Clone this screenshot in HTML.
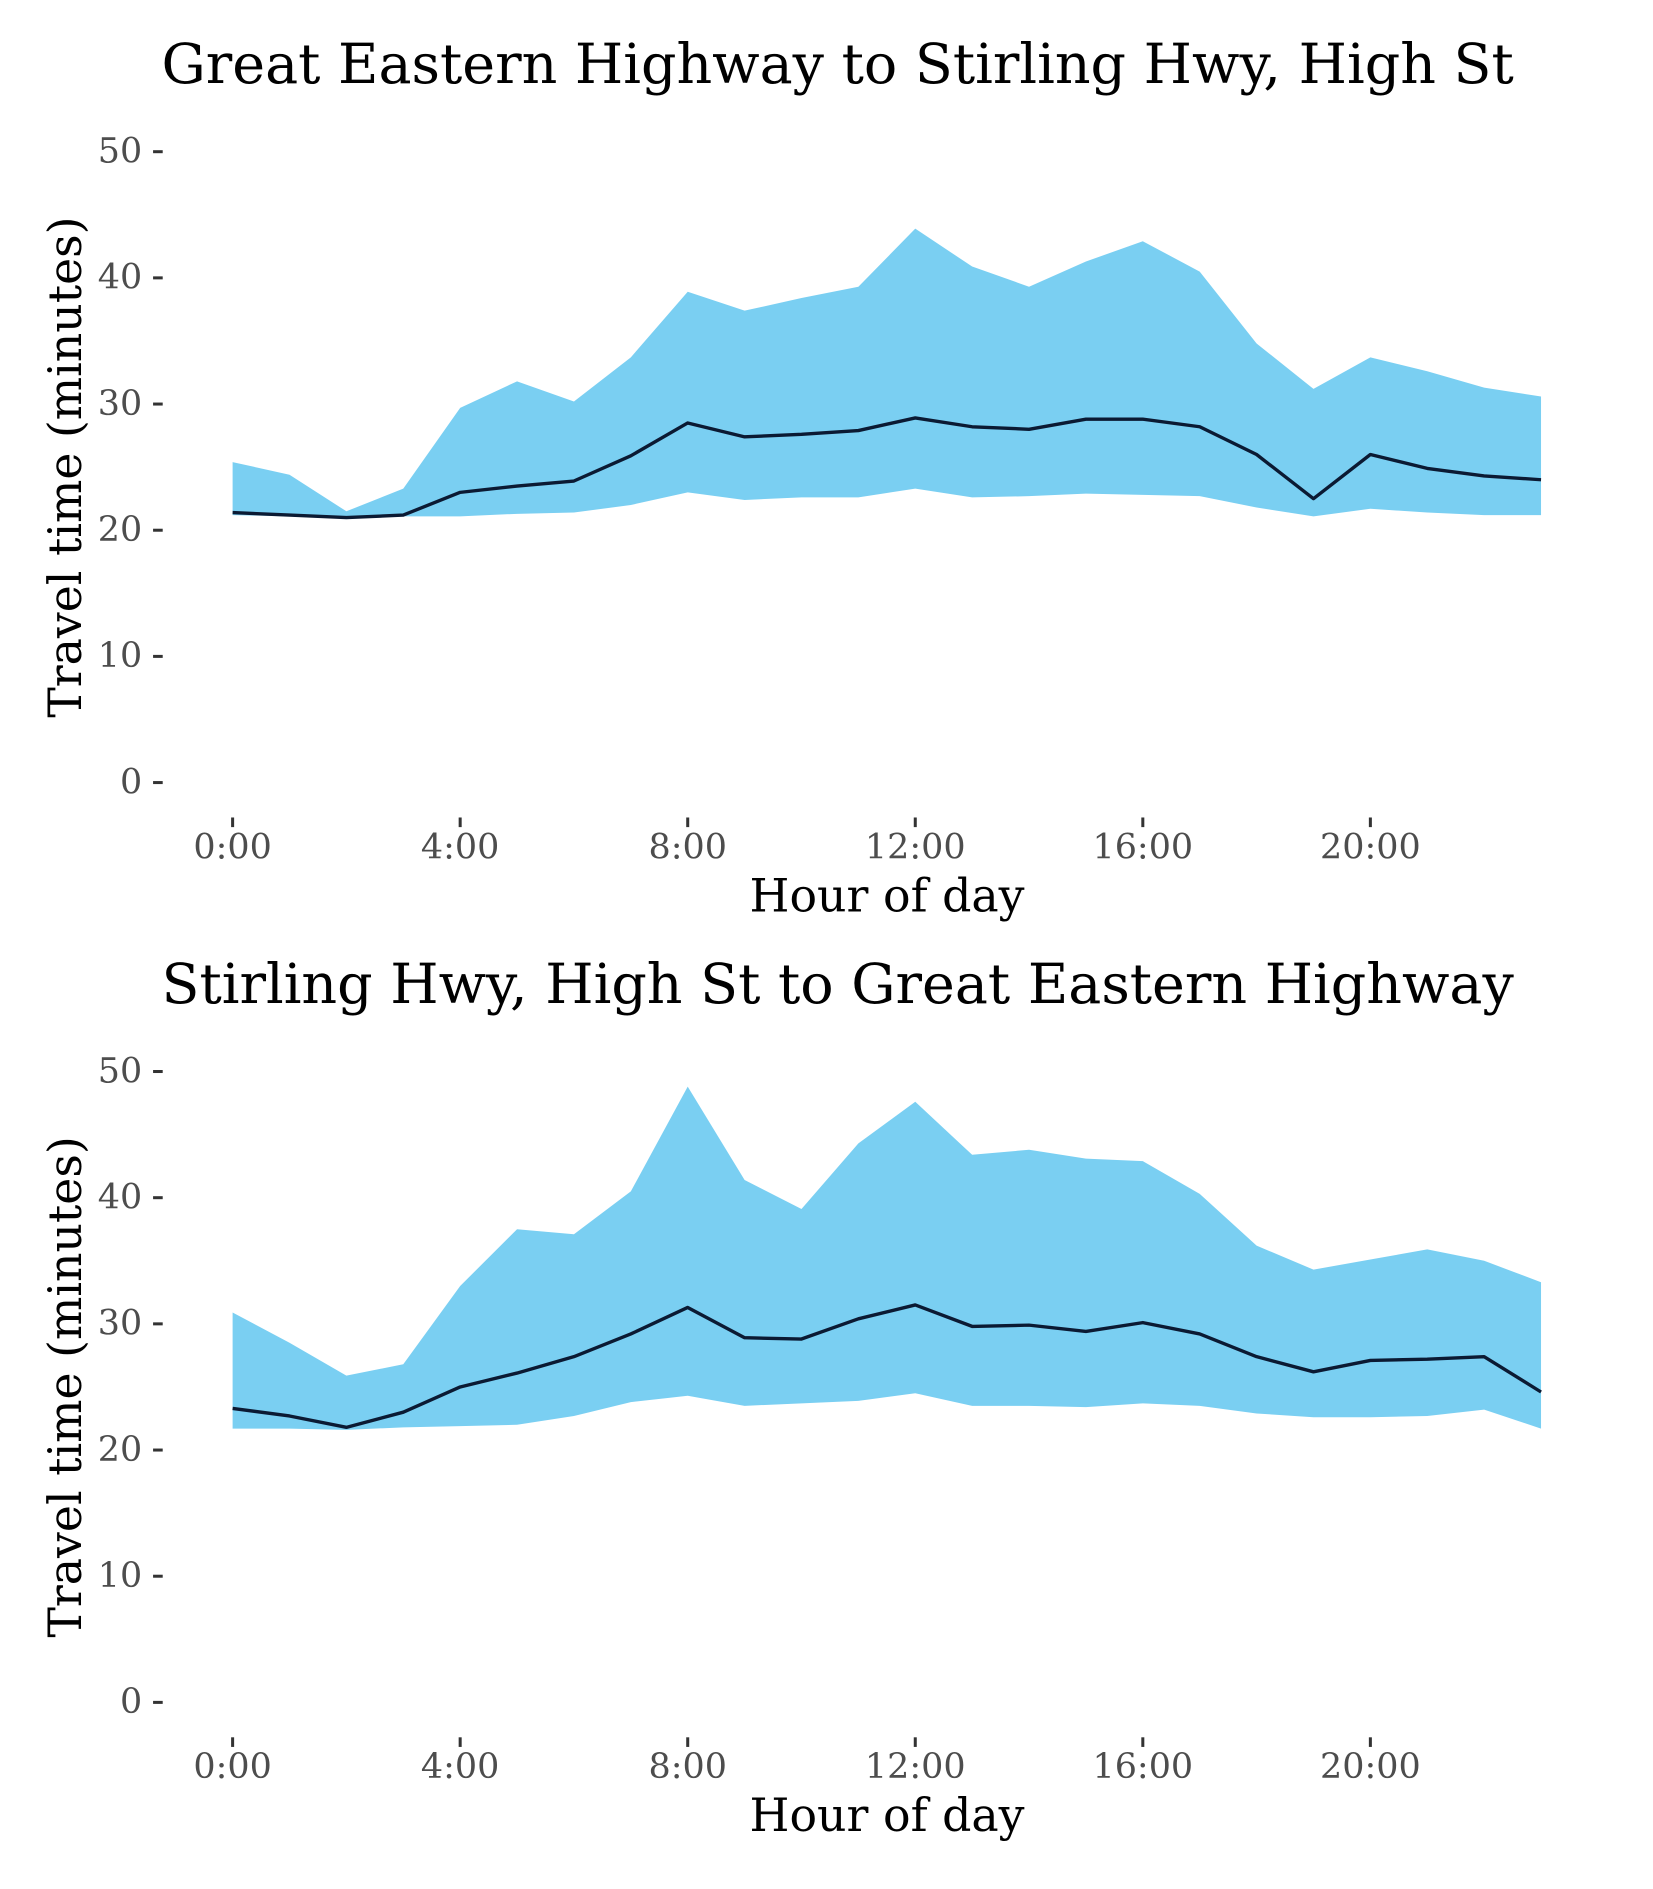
<!DOCTYPE html>
<html><head><meta charset="utf-8"><style>
html,body{margin:0;padding:0;background:#fff;}
svg{display:block;}
text{font-family:"DejaVu Serif","Liberation Serif",serif;}
</style></head><body>
<svg id="svg" width="1653" height="1889" viewBox="0 0 1371.5 1569" preserveAspectRatio="none" xmlns="http://www.w3.org/2000/svg"></svg>
<script>
const hours = [0,1,2,3,4,5,6,7,8,9,10,11,12,13,14,15,16,17,18,19,20,21,22,23];
const yTicks = [0,10,20,30,40,50];
const xTickHours = [0,4,8,12,16,20];
const xTickLabels = ["0:00","4:00","8:00","12:00","16:00","20:00"];
const titles = ["Great Eastern Highway to Stirling Hwy, High St","Stirling Hwy, High St to Great Eastern Highway"];
const upperA = [25.4,24.4,21.5,23.3,29.7,31.8,30.2,33.7,38.9,37.4,38.4,39.3,43.9,40.9,39.3,41.3,42.9,40.5,34.8,31.2,33.7,32.6,31.3,30.6];
const meanA = [21.4,21.2,21.0,21.2,23.0,23.5,23.9,25.9,28.5,27.4,27.6,27.9,28.9,28.2,28.0,28.8,28.8,28.2,26.0,22.5,26.0,24.9,24.3,24.0];
const lowerA = [21.2,21.1,21.0,21.1,21.1,21.3,21.4,22.0,23.0,22.4,22.6,22.6,23.3,22.6,22.7,22.9,22.8,22.7,21.8,21.1,21.7,21.4,21.2,21.2];
const upperB = [30.9,28.5,25.9,26.8,33.0,37.5,37.1,40.5,48.8,41.4,39.1,44.3,47.6,43.4,43.8,43.1,42.9,40.3,36.2,34.3,35.1,35.9,35.0,33.3];
const meanB = [23.3,22.7,21.8,23.0,25.0,26.1,27.4,29.2,31.3,28.9,28.8,30.4,31.5,29.8,29.9,29.4,30.1,29.2,27.4,26.2,27.1,27.2,27.4,24.6];
const lowerB = [21.7,21.7,21.6,21.8,21.9,22.0,22.7,23.8,24.3,23.5,23.7,23.9,24.5,23.5,23.5,23.4,23.7,23.5,22.9,22.6,22.6,22.7,23.2,21.7];

const NS="http://www.w3.org/2000/svg";
const svg=document.getElementById('svg');
function mk(tag,attrs,parent){const e=document.createElementNS(NS,tag);for(const k in attrs)e.setAttribute(k,attrs[k]);(parent||svg).appendChild(e);return e;}

function panel(idx,top,upper,mean,lower){
  const g=mk('g',{});
  
  
  const y0=top+524, y50=top;
  const X=h=>193+h*47.2;
  const Y=v=>y0-(v/50)*(y0-y50);
  const t=mk('text',{x:695,y:top-57,'text-anchor':'middle','font-size':46,fill:'#000'},g);
  t.textContent=titles[idx];
  
  
  yTicks.forEach(v=>{
    const l=mk('line',{x1:127,x2:135,y1:Y(v),y2:Y(v),stroke:'#333','stroke-width':2.5},g);
    
    
    const tx=mk('text',{x:118,y:Y(v)+9,'text-anchor':'end','font-size':29,fill:'#4d4d4d'},g);
    tx.textContent=v;
    
    
  });
  xTickHours.forEach((h,i)=>{
    const l=mk('line',{x1:X(h),x2:X(h),y1:y0+29,y2:y0+37,stroke:'#333','stroke-width':2.5},g);
    
    
    const tx=mk('text',{x:X(h),y:y0+63,'text-anchor':'middle','font-size':29,fill:'#4d4d4d'},g);
    tx.textContent=xTickLabels[i];
    
    
  });
  let d='M'+hours.map((h,i)=>X(h)+','+Y(upper[i])).join('L');
  d+='L'+hours.slice().reverse().map(h=>X(h)+','+Y(lower[h])).join('L')+'Z';
  const band=mk('path',{d:d,fill:'#7acff2'},g);
  
  
  const ln=mk('polyline',{points:hours.map((h,i)=>X(h)+','+Y(mean[i])).join(' '),fill:'none',stroke:'#0b1a33','stroke-width':2.8,'stroke-linejoin':'round'},g);
  
  
  const xt=mk('text',{x:736,y:y0+107,'text-anchor':'middle','font-size':38,fill:'#000'},g);
  xt.textContent='Hour of day';
  
  
  const yt=mk('text',{x:0,y:0,'text-anchor':'middle','font-size':38,fill:'#000',transform:'translate(67,'+(top+262)+') rotate(-90)'},g);
  yt.textContent='Travel time (minutes)';
  
  
}
panel(0,126,upperA,meanA,lowerA);
panel(1,890,upperB,meanB,lowerB);
</script>
</body></html>
